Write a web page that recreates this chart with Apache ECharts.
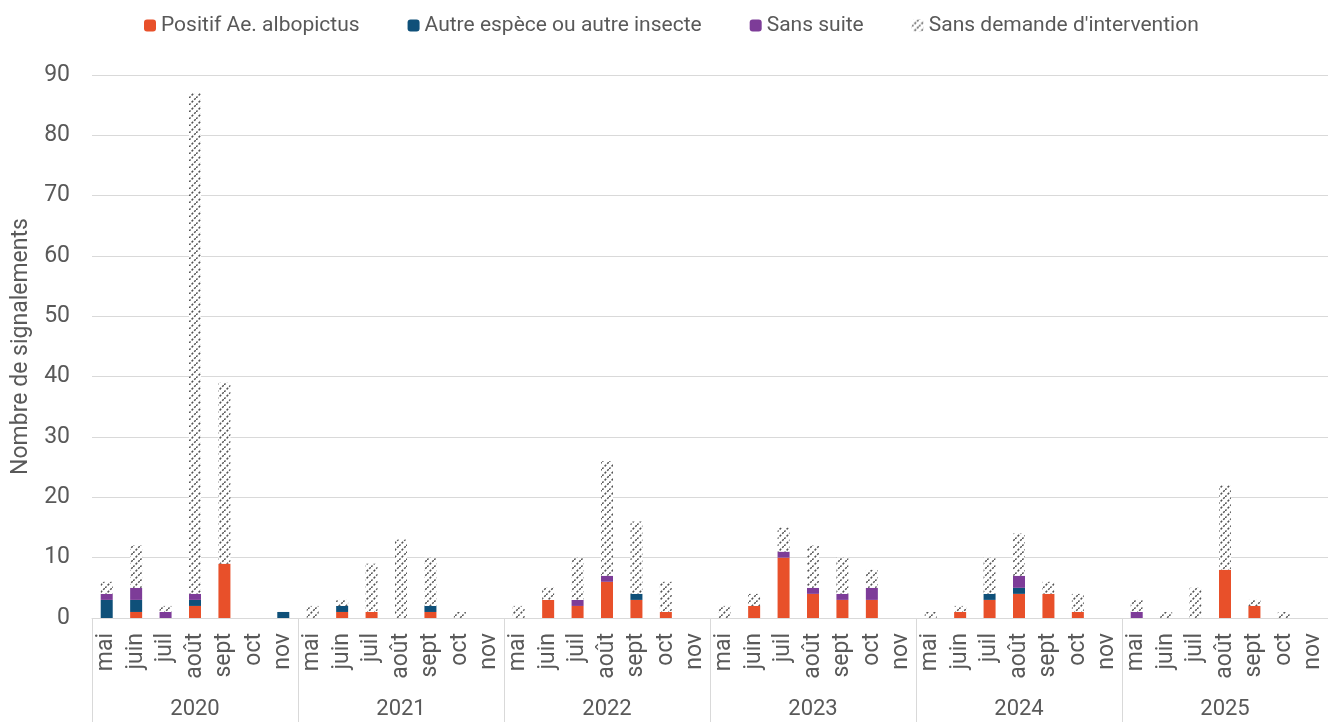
<!DOCTYPE html>
<html>
<head>
<meta charset="utf-8">
<script src="https://cdn.jsdelivr.net/npm/echarts@6/dist/echarts.min.js"></script>
<style>
  html, body { margin: 0; padding: 0; background: #fff; }
  #chart { width: 1328px; height: 722px; }
</style>
</head>
<body>
<div id="chart"></div>
<script>
// données
var annees = ['2020', '2021', '2022', '2023', '2024', '2025'];
var mois = ['mai', 'juin', 'juil', 'août', 'sept', 'oct', 'nov'];

var positif = [
  0, 1, 0, 2, 9, 0, 0,
  0, 1, 1, 0, 1, 0, 0,
  0, 3, 2, 6, 3, 1, 0,
  0, 2, 10, 4, 3, 3, 0,
  0, 1, 3, 4, 4, 1, 0,
  0, 0, 0, 8, 2, 0, 0
];
var autreEspece = [
  3, 2, 0, 1, 0, 0, 1,
  0, 1, 0, 0, 1, 0, 0,
  0, 0, 0, 0, 1, 0, 0,
  0, 0, 0, 0, 0, 0, 0,
  0, 0, 1, 1, 0, 0, 0,
  0, 0, 0, 0, 0, 0, 0
];
var sansSuite = [
  1, 2, 1, 1, 0, 0, 0,
  0, 0, 0, 0, 0, 0, 0,
  0, 0, 1, 1, 0, 0, 0,
  0, 0, 1, 1, 1, 2, 0,
  0, 0, 0, 2, 0, 0, 0,
  1, 0, 0, 0, 0, 0, 0
];
var sansDemande = [
  2, 7, 1, 83, 30, 0, 0,
  2, 1, 8, 13, 8, 1, 0,
  2, 2, 7, 19, 12, 5, 0,
  2, 2, 4, 7, 6, 3, 0,
  1, 1, 6, 7, 2, 3, 0,
  2, 1, 5, 14, 1, 1, 0
];

// catégories mois x année
var categories = [];
annees.forEach(function (a) {
  mois.forEach(function (m) { categories.push(m); });
});

// motif hachuré (tirets en diagonale)
function hachures() {
  var c = document.createElement('canvas');
  c.width = 7; c.height = 7;
  var ctx = c.getContext('2d');
  ctx.fillStyle = '#ffffff';
  ctx.fillRect(0, 0, 7, 7);
  ctx.strokeStyle = '#555555';
  ctx.lineWidth = 1.5;
  ctx.setLineDash([2.2, 1.5]);
  ctx.beginPath();
  ctx.moveTo(0, 7); ctx.lineTo(7, 0);
  ctx.stroke();
  return c;
}

var gris = '#d9d9d9';
var texte = '#595959';

var myChart = echarts.init(document.getElementById('chart'));
var option = {
  animation: false,
  textStyle: { fontFamily: 'Roboto, Liberation Sans, sans-serif' },
  legend: {
    top: 10,
    left: 139,
    itemWidth: 12,
    itemHeight: 12,
    itemGap: 48,
    textStyle: { color: texte, fontSize: 21 },
    data: ['Positif Ae. albopictus', 'Autre espèce ou autre insecte', 'Sans suite', "Sans demande d'intervention"]
  },
  grid: { left: 92, right: 0, top: 75, bottom: 104 },
  xAxis: [{
    type: 'category',
    data: categories,
    axisLine: { lineStyle: { color: gris } },
    axisTick: { show: false },
    axisLabel: { interval: 0, rotate: 90, margin: 15, color: texte, fontSize: 23 }
  }, {
    type: 'category',
    data: annees,
    position: 'bottom',
    axisLine: { show: false },
    axisTick: { show: true, interval: 0, length: 104, lineStyle: { color: gris } },
    axisLabel: { interval: 0, margin: 80, color: texte, fontSize: 22 }
  }],
  yAxis: {
    type: 'value',
    min: 0,
    max: 90,
    interval: 10,
    name: 'Nombre de signalements',
    nameLocation: 'middle',
    nameGap: 58,
    nameRotate: 90,
    nameTextStyle: { color: texte, fontSize: 23 },
    axisLine: { show: false },
    axisTick: { show: false },
    axisLabel: { color: texte, fontSize: 23, margin: 22 },
    splitLine: { lineStyle: { color: gris } }
  },
  series: [{
    name: 'Positif Ae. albopictus',
    type: 'bar', stack: 'total', barWidth: 12,
    itemStyle: { color: '#e8502a' },
    data: positif
  }, {
    name: 'Autre espèce ou autre insecte',
    type: 'bar', stack: 'total', barWidth: 12,
    itemStyle: { color: '#0f5079' },
    data: autreEspece
  }, {
    name: 'Sans suite',
    type: 'bar', stack: 'total', barWidth: 12,
    itemStyle: { color: '#7d3c98' },
    data: sansSuite
  }, {
    name: "Sans demande d'intervention",
    type: 'bar', stack: 'total', barWidth: 12,
    itemStyle: { color: { image: hachures(), repeat: 'repeat' } },
    data: sansDemande
  }]
};
myChart.setOption(option);
</script>
</body>
</html>
